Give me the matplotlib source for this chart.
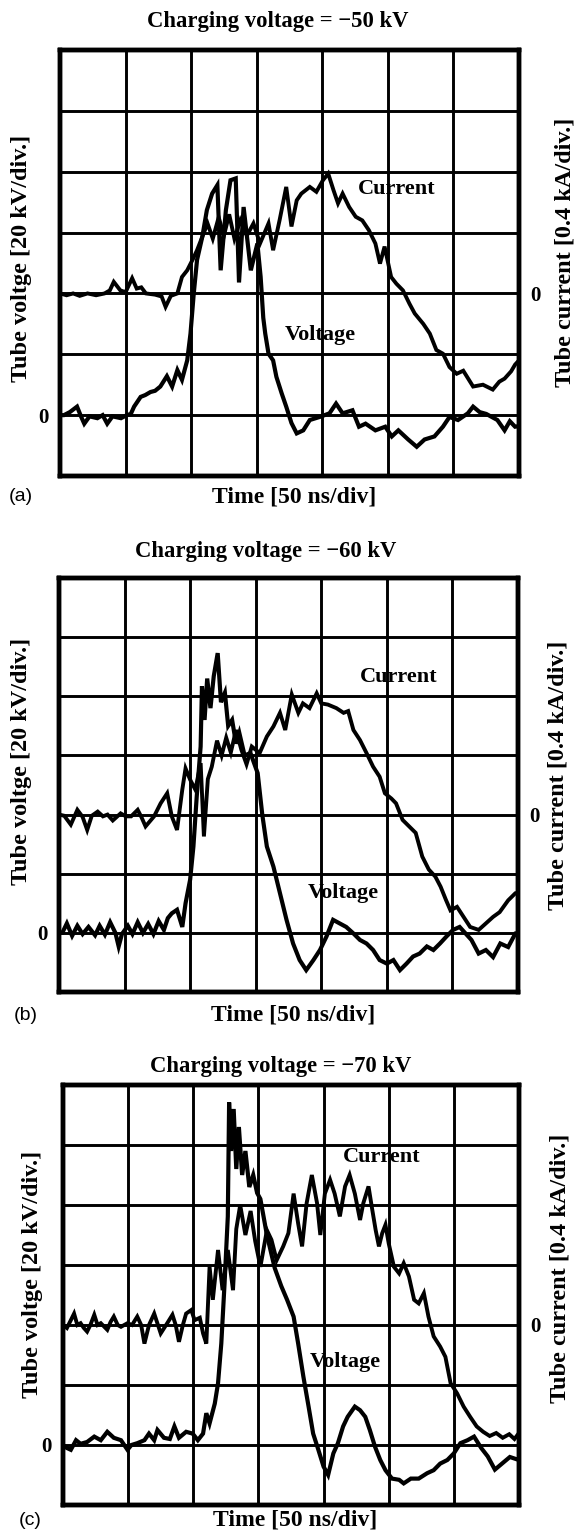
import numpy as np
import matplotlib.pyplot as plt

plt.rcParams['font.family'] = ['Liberation Serif', 'DejaVu Serif']
plt.rcParams['font.weight'] = 'bold'

# ---- data (time in ns, voltage in kV, current in kA) ----

titles = ['Charging voltage = \u221250 kV',
          'Charging voltage = \u221260 kV',
          'Charging voltage = \u221270 kV']
panel_tags = ['(a)', '(b)', '(c)']

# (a) -50 kV
t_volt_a = [0, 3, 7.5, 13, 16, 18.5, 22.5, 28.5, 32.5, 36, 40, 46.5, 51, 54, 56.5, 61.5, 65, 69,
            72.5, 76.5, 81.5, 85.5, 89.5, 93, 97, 99.5, 102, 104.5, 108.5, 112, 116, 120, 122.5,
            126.5, 130, 134, 136.5, 140, 145.5, 150.5, 153, 155, 156.5, 159, 162.5, 165, 169,
            172.5, 176.5, 180.5, 185.5, 190.5, 198, 205.5, 210.5, 215.5, 223, 228, 233, 240.5,
            248, 253, 258, 265.5, 272, 278, 285.5, 292, 297, 303.5, 311, 315, 320, 325, 333.5,
            339, 343, 347, 350]
volt_a = [0, 0, 1, 2.8, -0.4, -2.8, -0.4, -1, 0, -2.8, -0.4, -1, 0, 0.4, 2.8, 6, 6.6, 7.6,
          8, 9.4, 12.8, 9.4, 14.8, 11.6, 18, 26.8, 40, 51, 58.6, 67.4, 72.8, 75.6, 47.6,
          67.4, 77.2, 77.8, 43.6, 68.4, 47.6, 56.4, 45.4, 32, 26.8, 20.2, 18, 12.6, 7.2,
          2.8, -2.6, -6, -5, -1.6, -0.6, 0.6, 3.8, 0.6, 1.6, -3.8, -2.8, -5,
          -3.8, -7, -5, -8, -10.4, -8, -7, -3.8, -0.6, -1.6, 0.6, 2.8, 1, 0.4, -1.6,
          -5, -2, -3.8, -3.6]
t_curr_a = [0, 5, 10, 15, 21, 27.5, 34, 38, 41, 46, 50, 55, 58.5, 62, 65.5, 72.5, 77.5, 80.5,
            84.5, 89.5, 93, 97, 101, 104.5, 108.5, 112.5, 116.5, 121, 125, 129, 133, 137.5,
            142.5, 147.5, 152.5, 159, 162.5, 167.5, 172.5, 176.5, 180.5, 184, 190.5, 195.5,
            200.5, 204.5, 208.5, 212, 215.5, 220.5, 225.5, 230.5, 235.5, 240.5, 244, 247.5,
            252.5, 256.5, 261.5, 266.5, 270.5, 277, 282, 287, 292, 297, 302.5, 307.5, 315,
            322.5, 330, 335, 339, 344, 347, 350]
curr_a = [0, -0.012, 0, -0.016, 0, -0.012, 0, 0.02, 0.076, 0.02, 0.008, 0.1, 0.032, 0.04, 0,
          -0.008, -0.02, -0.088, -0.016, 0, 0.108, 0.152, 0.22, 0.284, 0.372, 0.46, 0.36, 0.5,
          0.38, 0.52, 0.36, 0.48, 0.38, 0.46, 0.328, 0.46, 0.284, 0.484, 0.7, 0.44, 0.612,
          0.656, 0.7, 0.668, 0.744, 0.788, 0.68, 0.592, 0.656, 0.568, 0.504, 0.48, 0.416,
          0.328, 0.196, 0.308, 0.108, 0.064, 0.02, -0.068, -0.132, -0.2, -0.264, -0.372,
          -0.396, -0.484, -0.528, -0.508, -0.612, -0.6, -0.632, -0.58, -0.56, -0.512,
          -0.468, -0.44]

# (b) -60 kV
t_volt_b = [0, 2.5, 6, 10, 14, 18, 22.5, 27.5, 31, 35, 39, 43, 45.5, 48, 52.5, 56, 60, 64, 68,
            72, 76, 80, 83, 86, 90, 94, 96.5, 100, 102.5, 105, 108, 109, 111, 113, 115.5, 118,
            121, 123.5, 126.5, 129, 132, 135, 137.5, 141.5, 146, 151.5, 155, 158.5, 163.5,
            168.5, 173.5, 178.5, 183.5, 188.5, 194, 199, 204, 209, 214, 219, 224.5, 229.5,
            234.5, 239.5, 244.5, 250, 255, 260, 265, 270, 275, 280.5, 285.5, 290.5, 295.5,
            300.5, 305.5, 310, 314.5, 320, 325.5, 331, 336.5, 342.5, 348, 350]
volt_b = [0, 0, 3.2, -1, 2.4, -0.4, 2, -0.8, 2.4, -0.6, 3.6, 0, -4.6, -0.4, 2.4, -0.4, 3.6, 0,
          3, -0.4, 4, 1, 5, 6.6, 7.8, 2, 10, 18, 29.2, 46, 63, 83.4, 72, 86, 76, 86.8,
          94.6, 78, 81.2, 70, 72, 64, 67.6, 60, 60.8, 54, 40, 29.2, 22.4,
          13.4, 4.4, -3.6, -9.2, -12.6, -9.2, -5.8, -1.2, 4.4, 3.2, 2, -0.2, -2.4,
          -3.6, -5.8, -9.2, -10.4, -9.2, -12.6, -10.4, -8, -7, -4.6, -5.8, -3.6, -1.2,
          1, 2, -0.2, -2.4, -7, -5.8, -8.2, -3.6, -4.8, -0.2, 0]
t_curr_b = [0, 4, 9, 14, 18, 21.5, 25, 29.5, 33.5, 37, 41, 47, 51, 55, 60, 63, 66, 72.5, 77.5,
            82.5, 86, 90, 94, 96.5, 100, 104, 108, 110.5, 113.5, 116.5, 120.5, 124, 127.5,
            131, 135, 139, 143, 147, 153, 158.5, 163.5, 168.5, 172.5, 177.5, 182.5, 186, 191,
            196.5, 200, 205, 211.5, 217, 220.5, 224.5, 229.5, 234.5, 239.5, 244.5, 248.5,
            253.5, 257, 262, 267, 272, 277, 282, 287, 291, 295, 298.5, 303.5, 308.5, 313.5,
            320, 325, 331, 336, 342.5, 348, 350]
curr_b = [0, -0.008, -0.068, 0.032, -0.016, -0.104, -0.008, 0.02, -0.012, 0, -0.04, 0.008,
          -0.012, -0.012, 0.032, -0.02, -0.08, -0.012, 0.076, 0.144, -0.012, -0.104, 0.168,
          0.312, 0.236, 0.168, 0.348, -0.148, 0.24, 0.324, 0.5, 0.4, 0.52, 0.42, 0.572, 0.44,
          0.34, 0.46, 0.416, 0.528, 0.596, 0.688, 0.572, 0.812, 0.688, 0.752, 0.72, 0.82,
          0.752, 0.744, 0.72, 0.688, 0.7, 0.572, 0.504, 0.416, 0.324, 0.256, 0.144, 0.108,
          0.076, -0.036, -0.08, -0.124, -0.284, -0.372, -0.42, -0.488, -0.576, -0.648,
          -0.624, -0.692, -0.76, -0.78, -0.74, -0.692, -0.66, -0.58, -0.532, -0.528]

# (c) -70 kV
t_volt_c = [0, 3, 6, 10, 13.5, 18.5, 24, 29, 34, 39, 44.5, 49.5, 52.5, 57, 62.5, 66, 70, 72.5,
            77.5, 82, 85.5, 89, 94.5, 99.5, 103.5, 107.5, 110, 112.5, 116.5, 119, 121.5, 124,
            126.5, 127.5, 129, 131, 133, 135, 137.5, 140, 143, 146, 149, 151.5, 156.5, 162.5,
            167.5, 172, 177, 180.5, 184.5, 188.5, 192, 196, 200, 203.5, 207.5, 211, 215,
            218.5, 224, 228, 232, 235.5, 239.5, 243.5, 247.5, 252.5, 258, 261.5, 267, 273,
            279.5, 284.5, 289.5, 295, 300, 305, 310.5, 315.5, 321, 326, 331.5, 337.5, 343,
            348.5, 350]
volt_c = [0, -1, -1.6, 1.6, 0.4, 1, 2.8, 1.6, 4.4, 2.4, 1.6, -1.6, 0, 0.6, 1.6, 3.8, 1.6, 5,
          2.4, 2, 6.2, 2.4, 4.4, 3.8, 1.6, 3.8, 10.6, 7.2, 13.8, 20.6, 33.8, 53.8,
          76.2, 114.2, 98, 112, 92, 106, 90, 98, 86, 90, 84, 82, 70, 59,
          53, 48.4, 42.8, 33.8, 22.8, 12.8, 3.8, -1.6, -7.2, -10, -2.8, 0.6, 6.2,
          9.4, 12.8, 11.6, 9.4, 5, -0.6, -5, -8.4, -11.2, -11.6, -12.8, -11.2, -11.2,
          -9.4, -8.4, -6.2, -5, -2.8, 0.6, 1.6, 2.8, -1, -3.8, -8.2, -6, -4,
          -4.8, -4.4]
t_curr_c = [0, 3, 6, 8.5, 11, 13.5, 16, 18.5, 21, 24, 26.5, 29, 34, 36.5, 39, 42, 44.5, 49.5,
            53, 57, 60, 62.5, 66, 70, 75, 80, 84, 86.5, 89, 92, 94.5, 98.5, 101, 105, 107.5,
            110, 112.5, 115, 119, 122.5, 126.5, 130.5, 133, 136, 140, 144, 147.5, 151.5,
            156.5, 160, 164, 169, 173, 177, 180.5, 183.5, 187, 191, 195, 197.5, 201, 205,
            208.5, 212.5, 216.5, 220, 224, 228, 230.5, 234.5, 237, 240, 242.5, 245, 247.5,
            250, 254, 258, 261.5, 265.5, 269.5, 273, 277, 280.5, 284.5, 289.5, 293.5, 297.5,
            302.5, 307.5, 312.5, 317.5, 322.5, 327.5, 332.5, 337.5, 342.5, 346.5, 350]
curr_c = [0, -0.02, 0.032, 0.076, 0, 0.012, -0.02, -0.044, 0, 0.068, 0, 0.012, -0.032, 0.02,
          0.056, 0, -0.012, 0.012, 0, 0.056, 0, -0.124, 0, 0.076, -0.056, 0.012, 0.068, 0,
          -0.112, 0, 0.076, 0.1, 0.032, 0.048, -0.056, -0.124, 0.388, 0.168, 0.5, 0.232, 0.5,
          0.232, 0.64, 0.8, 0.6, 0.76, 0.56, 0.388, 0.632, 0.568, 0.432, 0.524, 0.612, 0.876,
          0.676, 0.524, 0.812, 1.0, 0.812, 0.6, 0.876, 0.968, 0.876, 0.724, 0.924, 1.0, 0.876,
          0.7, 0.812, 0.924, 0.788, 0.632, 0.524, 0.612, 0.668, 0.544, 0.388, 0.344, 0.412,
          0.324, 0.168, 0.144, 0.212, 0.056, -0.076, -0.144, -0.212, -0.388, -0.456, -0.544,
          -0.612, -0.676, -0.712, -0.74, -0.72, -0.752, -0.728, -0.76, -0.72]

# where the trace names sit (ns, kV)
curr_label_pos = [(227, 74.2), (229.5, 86.6), (215, 96)]
volt_label_pos = [(171.5, 26.4), (190, 13.4), (189.5, 27.8)]

# ---- layout ----
W, H = 577, 1537
fig = plt.figure(figsize=(W / 100, H / 100), dpi=100)

# axes boxes in pixels: left, top, right, bottom
boxes = [(60, 50, 519, 476), (59, 578, 518, 992), (63, 1085, 519, 1505)]
title_xy = [(0.475, 1.066), (0.451, 1.063), (0.478, 1.043)]
xlab_y = [-0.049, -0.056, -0.036]
tag_x = [-0.085, -0.072, -0.072]
ylab_left = [(-0.083, 0.51), (-0.081, 0.556), (-0.066, 0.548)]
ylab_right = [(1.10, 0.526), (1.087, 0.524), (1.09, 0.564)]

traces = [(t_volt_a, volt_a, t_curr_a, curr_a),
          (t_volt_b, volt_b, t_curr_b, curr_b),
          (t_volt_c, volt_c, t_curr_c, curr_c)]

for i, (tv, v, tc, c) in enumerate(traces):
    l, t, r, b = boxes[i]
    ax = fig.add_axes([l / W, 1 - b / H, (r - l) / W, (b - t) / H])
    ax2 = ax.twinx()

    ax.set_xlim(0, 350)
    ax.set_ylim(-20, 120)
    ax2.set_ylim(-1.2, 1.6)

    ax.set_xticks(np.arange(0, 351, 50))
    ax.set_xticklabels([])
    yt = np.arange(-20, 121, 20)
    ax.set_yticks(yt)
    ax.set_yticklabels(['0' if y == 0 else '' for y in yt])
    ax2.set_yticks([0])
    ax2.set_yticklabels(['0'])
    ax.tick_params(length=0, labelsize=15, pad=8)
    ax2.tick_params(length=0, labelsize=15, pad=8)
    ax.grid(True, color='black', linewidth=2.1)

    for a in (ax, ax2):
        for sp in a.spines.values():
            sp.set_linewidth(3.2)

    ax.plot(tv, v, color='black', linewidth=3.0, solid_joinstyle='miter')
    ax2.plot(tc, c, color='black', linewidth=2.8, solid_joinstyle='miter')

    ax.text(*curr_label_pos[i], 'Current', fontsize=16, ha='left', va='center')
    ax.text(*volt_label_pos[i], 'Voltage', fontsize=16, ha='left', va='center')

    ax.text(title_xy[i][0], title_xy[i][1], titles[i], transform=ax.transAxes,
            fontsize=16.3, ha='center', va='center')
    ax.text(0.51, xlab_y[i], 'Time [50 ns/div]', transform=ax.transAxes,
            fontsize=17, ha='center', va='center')
    ax.text(tag_x[i], xlab_y[i], panel_tags[i], transform=ax.transAxes,
            fontsize=14, ha='center', va='center', family='Liberation Sans',
            fontweight='normal')
    ax.text(ylab_left[i][0], ylab_left[i][1], 'Tube voltge [20 kV/div.]',
            transform=ax.transAxes, rotation=90, fontsize=17.5, ha='center', va='center')
    ax.text(ylab_right[i][0], ylab_right[i][1], 'Tube current [0.4 kA/div.]',
            transform=ax.transAxes, rotation=90, fontsize=17.5, ha='center', va='center')

fig.savefig('out.png', dpi=100)
